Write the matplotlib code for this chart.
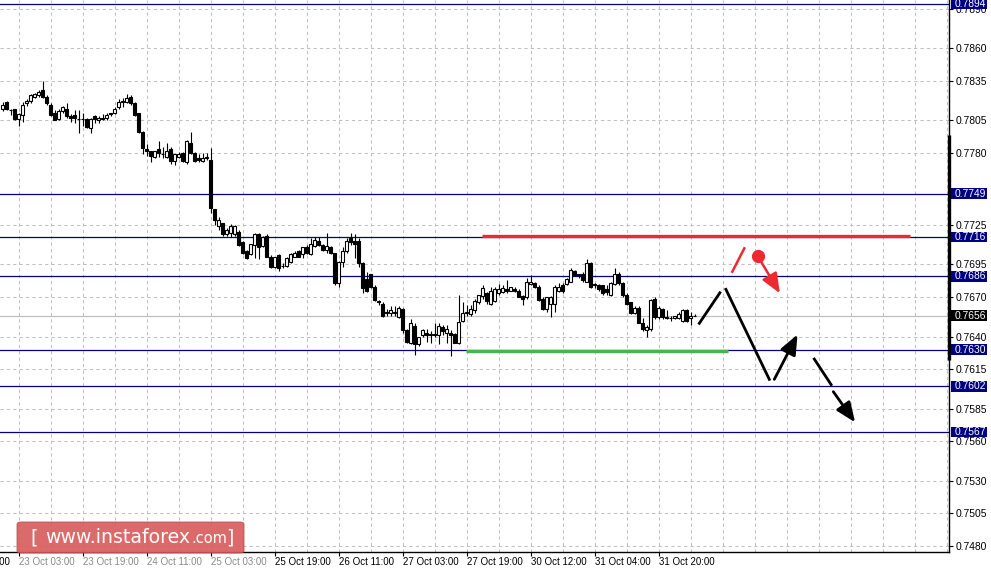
import numpy as np
import matplotlib
matplotlib.use("Agg")
import matplotlib.pyplot as plt
from matplotlib.patches import Rectangle, FancyBboxPatch
import matplotlib.transforms as mtransforms

plt.rcParams['lines.scale_dashes'] = False

# ---------------- data ----------------
open_ = [0.7814, 0.7819, 0.7813, 0.7814, 0.7806, 0.7809, 0.7818, 0.7820, 0.7823, 0.7824,
         0.7828, 0.7823, 0.7817, 0.7811, 0.7806, 0.7812, 0.7814, 0.7808, 0.7809, 0.7806,
         0.7806, 0.7806, 0.7799, 0.7808, 0.7805, 0.7807, 0.7807, 0.7810, 0.7811, 0.7815,
         0.7819, 0.7819, 0.7823, 0.7818, 0.7811, 0.7796, 0.7783, 0.7782, 0.7777, 0.7783,
         0.7779, 0.7777, 0.7783, 0.7774, 0.7777, 0.7780, 0.7773, 0.7788, 0.7780, 0.7776,
         0.7774, 0.7776, 0.7775, 0.7737, 0.7724, 0.7727, 0.7718, 0.7719, 0.7718, 0.7720,
         0.7712, 0.7705, 0.7703, 0.7710, 0.7718, 0.7709, 0.7717, 0.7701, 0.7693, 0.7702,
         0.7694, 0.7694, 0.7697, 0.7701, 0.7705, 0.7703, 0.7708, 0.7703, 0.7709, 0.7713,
         0.7710, 0.7706, 0.7708, 0.7704, 0.7681, 0.7697, 0.7705, 0.7715, 0.7713, 0.7713,
         0.7696, 0.7684, 0.7688, 0.7678, 0.7667, 0.7665, 0.7659, 0.7658, 0.7659, 0.7655,
         0.7661, 0.7645, 0.7635, 0.7648, 0.7634, 0.7641, 0.7643, 0.7642, 0.7642, 0.7641,
         0.7647, 0.7643, 0.7643, 0.7642, 0.7635, 0.7652, 0.7658, 0.7657, 0.7660, 0.7666,
         0.7671, 0.7673, 0.7665, 0.7667, 0.7673, 0.7674, 0.7676, 0.7675, 0.7676, 0.7675,
         0.7671, 0.7670, 0.7680, 0.7681, 0.7678, 0.7669, 0.7661, 0.7665, 0.7665, 0.7675,
         0.7679, 0.7680, 0.7682, 0.7690, 0.7688, 0.7688, 0.7682, 0.7696, 0.7679, 0.7679,
         0.7679, 0.7676, 0.7672, 0.7680, 0.7688, 0.7681, 0.7672, 0.7666, 0.7658, 0.7662,
         0.7650, 0.7645, 0.7646, 0.7669, 0.7655, 0.7661, 0.7655, 0.7654, 0.7654, 0.7654,
         0.7652, 0.7660, 0.7654, 0.7656]
high = [0.7819, 0.7820, 0.7814, 0.7814, 0.7811, 0.7819, 0.7821, 0.7825, 0.7826, 0.7828,
        0.7835, 0.7824, 0.7818, 0.7813, 0.7814, 0.7816, 0.7818, 0.7810, 0.7813, 0.7813,
        0.7811, 0.7807, 0.7807, 0.7809, 0.7808, 0.7810, 0.7811, 0.7811, 0.7815, 0.7821,
        0.7822, 0.7825, 0.7824, 0.7819, 0.7811, 0.7797, 0.7787, 0.7782, 0.7782, 0.7789,
        0.7785, 0.7788, 0.7785, 0.7779, 0.7781, 0.7781, 0.7790, 0.7796, 0.7781, 0.7779,
        0.7780, 0.7780, 0.7784, 0.7737, 0.7731, 0.7727, 0.7723, 0.7726, 0.7725, 0.7721,
        0.7713, 0.7706, 0.7711, 0.7719, 0.7719, 0.7717, 0.7718, 0.7702, 0.7701, 0.7703,
        0.7696, 0.7701, 0.7704, 0.7705, 0.7706, 0.7708, 0.7710, 0.7715, 0.7716, 0.7716,
        0.7711, 0.7719, 0.7709, 0.7704, 0.7698, 0.7708, 0.7715, 0.7719, 0.7718, 0.7715,
        0.7697, 0.7689, 0.7688, 0.7679, 0.7668, 0.7666, 0.7661, 0.7663, 0.7663, 0.7663,
        0.7662, 0.7646, 0.7653, 0.7650, 0.7640, 0.7646, 0.7646, 0.7644, 0.7650, 0.7650,
        0.7649, 0.7649, 0.7645, 0.7643, 0.7672, 0.7666, 0.7664, 0.7664, 0.7669, 0.7672,
        0.7679, 0.7674, 0.7678, 0.7678, 0.7680, 0.7679, 0.7683, 0.7678, 0.7678, 0.7676,
        0.7672, 0.7685, 0.7687, 0.7682, 0.7679, 0.7670, 0.7670, 0.7671, 0.7679, 0.7681,
        0.7681, 0.7685, 0.7692, 0.7691, 0.7688, 0.7689, 0.7699, 0.7697, 0.7681, 0.7680,
        0.7679, 0.7679, 0.7682, 0.7692, 0.7689, 0.7682, 0.7673, 0.7666, 0.7663, 0.7663,
        0.7654, 0.7649, 0.7669, 0.7670, 0.7663, 0.7662, 0.7660, 0.7656, 0.7656, 0.7659,
        0.7661, 0.7661, 0.7659, 0.7657]
low = [0.7812, 0.7813, 0.7809, 0.7805, 0.7801, 0.7804, 0.7816, 0.7818, 0.7822, 0.7823,
       0.7822, 0.7817, 0.7808, 0.7805, 0.7805, 0.7811, 0.7807, 0.7804, 0.7803, 0.7795,
       0.7801, 0.7799, 0.7795, 0.7803, 0.7803, 0.7805, 0.7805, 0.7808, 0.7810, 0.7814,
       0.7815, 0.7818, 0.7817, 0.7808, 0.7795, 0.7779, 0.7778, 0.7773, 0.7776, 0.7777,
       0.7776, 0.7776, 0.7772, 0.7771, 0.7776, 0.7773, 0.7772, 0.7779, 0.7773, 0.7773,
       0.7773, 0.7775, 0.7734, 0.7725, 0.7721, 0.7717, 0.7717, 0.7716, 0.7717, 0.7709,
       0.7703, 0.7699, 0.7702, 0.7700, 0.7699, 0.7708, 0.7701, 0.7692, 0.7692, 0.7690,
       0.7692, 0.7693, 0.7696, 0.7701, 0.7701, 0.7700, 0.7703, 0.7702, 0.7708, 0.7709,
       0.7705, 0.7704, 0.7703, 0.7679, 0.7678, 0.7693, 0.7704, 0.7710, 0.7700, 0.7693,
       0.7673, 0.7674, 0.7677, 0.7667, 0.7664, 0.7655, 0.7656, 0.7656, 0.7656, 0.7654,
       0.7643, 0.7635, 0.7634, 0.7626, 0.7633, 0.7640, 0.7636, 0.7635, 0.7640, 0.7634,
       0.7641, 0.7635, 0.7625, 0.7635, 0.7634, 0.7651, 0.7656, 0.7656, 0.7658, 0.7665,
       0.7669, 0.7665, 0.7664, 0.7666, 0.7672, 0.7673, 0.7673, 0.7675, 0.7674, 0.7670,
       0.7664, 0.7669, 0.7679, 0.7677, 0.7667, 0.7660, 0.7659, 0.7655, 0.7659, 0.7674,
       0.7673, 0.7679, 0.7682, 0.7686, 0.7685, 0.7682, 0.7682, 0.7677, 0.7677, 0.7675,
       0.7672, 0.7672, 0.7671, 0.7679, 0.7679, 0.7670, 0.7664, 0.7657, 0.7657, 0.7650,
       0.7644, 0.7640, 0.7644, 0.7653, 0.7653, 0.7653, 0.7653, 0.7652, 0.7653, 0.7653,
       0.7651, 0.7651, 0.7649, 0.7656]
close = [0.7817, 0.7814, 0.7813, 0.7806, 0.7810, 0.7817, 0.7820, 0.7824, 0.7825, 0.7827,
         0.7823, 0.7818, 0.7809, 0.7805, 0.7812, 0.7815, 0.7808, 0.7807, 0.7807, 0.7806,
         0.7806, 0.7800, 0.7806, 0.7806, 0.7807, 0.7806, 0.7809, 0.7811, 0.7814, 0.7819,
         0.7820, 0.7822, 0.7818, 0.7809, 0.7796, 0.7784, 0.7782, 0.7778, 0.7782, 0.7780,
         0.7779, 0.7782, 0.7774, 0.7779, 0.7779, 0.7774, 0.7789, 0.7780, 0.7774, 0.7775,
         0.7776, 0.7777, 0.7738, 0.7729, 0.7729, 0.7718, 0.7721, 0.7724, 0.7724, 0.7710,
         0.7704, 0.7700, 0.7711, 0.7718, 0.7708, 0.7716, 0.7701, 0.7693, 0.7701, 0.7692,
         0.7694, 0.7700, 0.7703, 0.7704, 0.7701, 0.7708, 0.7704, 0.7711, 0.7714, 0.7710,
         0.7706, 0.7709, 0.7704, 0.7681, 0.7697, 0.7705, 0.7713, 0.7712, 0.7711, 0.7696,
         0.7677, 0.7675, 0.7678, 0.7668, 0.7666, 0.7656, 0.7658, 0.7660, 0.7658, 0.7662,
         0.7645, 0.7636, 0.7650, 0.7634, 0.7640, 0.7645, 0.7641, 0.7641, 0.7641, 0.7648,
         0.7644, 0.7646, 0.7641, 0.7635, 0.7651, 0.7658, 0.7659, 0.7661, 0.7667, 0.7672,
         0.7677, 0.7667, 0.7675, 0.7676, 0.7676, 0.7677, 0.7675, 0.7678, 0.7675, 0.7670,
         0.7669, 0.7682, 0.7682, 0.7678, 0.7668, 0.7661, 0.7670, 0.7670, 0.7678, 0.7678,
         0.7675, 0.7684, 0.7691, 0.7687, 0.7687, 0.7683, 0.7696, 0.7678, 0.7680, 0.7676,
         0.7673, 0.7674, 0.7681, 0.7688, 0.7681, 0.7672, 0.7665, 0.7658, 0.7662, 0.7650,
         0.7646, 0.7647, 0.7668, 0.7655, 0.7662, 0.7655, 0.7654, 0.7654, 0.7656, 0.7657,
         0.7660, 0.7652, 0.7656, 0.7656]

time_labels = ["22 Oct 11:00", "23 Oct 03:00", "23 Oct 19:00", "24 Oct 11:00",
               "25 Oct 03:00", "25 Oct 19:00", "26 Oct 11:00", "27 Oct 03:00",
               "27 Oct 19:00", "30 Oct 12:00", "31 Oct 04:00", "31 Oct 20:00"]
time_label_bars = [-12, 4, 20, 36, 52, 68, 84, 100, 116, 132, 148, 164]

price_ticks = [0.7890, 0.7860, 0.7835, 0.7805, 0.7780, 0.7725, 0.7695, 0.7670,
               0.7640, 0.7615, 0.7585, 0.7560, 0.7530, 0.7505, 0.7480]
price_tick_labels = ["0.7890", "0.7860", "0.7835", "0.7805", "0.7780", "0.7725", "0.7695",
                     "0.7670", "0.7640", "0.7615", "0.7585", "0.7560", "0.7530", "0.7505",
                     "0.7480"]

levels = [0.7894, 0.7749, 0.7716, 0.7686, 0.7630, 0.7602, 0.7567]
level_labels = ["0.7894", "0.7749", "0.7716", "0.7686", "0.7630", "0.7602", "0.7567"]
current_price = 0.7656
current_label = "0.7656"

# drawn forecast (bar index, price)
resist_line = ([119.8, 226.8], [0.77165, 0.77165])
support_line = ([115.8, 181.3], [0.76289, 0.76289])
black_path_1 = ([174.15, 179.3], [0.76501, 0.76734])
black_path_2 = ([180.8, 191.65], [0.76760, 0.76073])
black_up_arrow = ([192.9, 198.7], [0.76073, 0.76415])
black_dash_1 = ([202.9, 207.1], [0.76228, 0.76033])
black_dash_arrow = ([207.65, 213.1], [0.75979, 0.75745])
red_stroke = ([182.4, 185.4], [0.76895, 0.77073])
red_dot = (188.75, 0.77015)
red_arrow = ([188.75, 194.3], [0.77015, 0.76730])

# ---------------- figure ----------------
W, H = 991, 574
fig = plt.figure(figsize=(W / 100, H / 100), dpi=100)
fig.patch.set_facecolor('white')
ax = fig.add_axes([0, 22 / H, 949 / W, 552 / H])
ax.set_facecolor('white')

PX_PER_BAR = 4.0
x0 = -2.7 / PX_PER_BAR
ax.set_xlim(x0, x0 + 949 / PX_PER_BAR)
ax.set_ylim(0.74755, 0.78969)

o = np.array(open_); h = np.array(high); l = np.array(low); c = np.array(close)
idx = np.arange(len(o))

GRID = '#c0c0c0'
for t in price_ticks:
    ax.axhline(t, color=GRID, lw=0.75, ls=(0, (2.3, 2.3)), zorder=0)
for gx in np.arange(-4, 240, 8):
    ax.axvline(gx, color=GRID, lw=0.75, ls=(0, (2.3, 2.3)), zorder=0)

NAVY = '#000080'
for lv in levels:
    ax.axhline(lv, color=NAVY, lw=0.9, zorder=1)
ax.axhline(current_price, color='#c0c0c0', lw=0.9, zorder=1)

# candles
up = c >= o
ax.vlines(idx, l, h, color='black', lw=0.8, zorder=3)
body_lo = np.minimum(o, c)
body_h = np.abs(c - o)
ax.bar(idx[up], body_h[up], bottom=body_lo[up], width=0.62, color='white',
       edgecolor='black', linewidth=0.8, zorder=4)
ax.bar(idx[~up], body_h[~up], bottom=body_lo[~up], width=0.62, color='black',
       edgecolor='black', linewidth=0.8, zorder=4)

# forecast drawings
RED = '#ec2a30'
GREEN = '#45b555'
ax.plot(*resist_line, color=RED, lw=2.4, solid_capstyle='butt', zorder=5)
ax.plot(*support_line, color=GREEN, lw=2.4, solid_capstyle='butt', zorder=5)
ax.plot(*black_path_1, color='black', lw=2.0, zorder=6)
ax.plot(*black_path_2, color='black', lw=2.0, zorder=6)
ax.plot(*black_dash_1, color='black', lw=2.0, zorder=6)
astyle = '-|>,head_length=0.6,head_width=0.25'
for seg in (black_up_arrow, black_dash_arrow):
    ax.annotate('', xy=(seg[0][1], seg[1][1]), xytext=(seg[0][0], seg[1][0]),
                arrowprops=dict(arrowstyle=astyle, color='black', lw=2.0,
                                mutation_scale=20, shrinkA=0, shrinkB=0), zorder=6)
ax.plot(*red_stroke, color=RED, lw=1.8, zorder=6)
ax.annotate('', xy=(red_arrow[0][1], red_arrow[1][1]), xytext=(red_arrow[0][0], red_arrow[1][0]),
            arrowprops=dict(arrowstyle=astyle, color=RED, lw=1.8,
                            mutation_scale=20, shrinkA=0, shrinkB=0), zorder=6)
ax.plot([red_dot[0]], [red_dot[1]], 'o', color=RED, ms=8.5, zorder=7)

# axes styling
for s in ['top', 'left']:
    ax.spines[s].set_visible(False)
ax.spines['right'].set_color('black')
ax.spines['bottom'].set_color('black')
ax.spines['right'].set_linewidth(1.0)
ax.spines['bottom'].set_linewidth(1.0)

FS = 7.4
TICKFONT = dict(family='Liberation Sans', size=FS)
ax.yaxis.tick_right()
ax.set_yticks(price_ticks)
ax.set_yticklabels(price_tick_labels, fontdict=TICKFONT)
ax.tick_params(axis='y', direction='out', length=3, width=0.8, pad=2, colors='black')

vis_bars = [b for b in time_label_bars if b >= x0]
ax.set_xticks(vis_bars)
ax.set_xticklabels([])
ax.tick_params(axis='x', direction='out', length=3, width=0.8)
xtrans = mtransforms.blended_transform_factory(ax.transData, ax.transAxes)
for b, lab in zip(time_label_bars, time_labels):
    px = 2.7 + b * PX_PER_BAR
    col = '#8a8a8a' if 15 < px < 240 else 'black'
    ax.annotate(lab, xy=(b, 0), xycoords=xtrans, xytext=(0.3, -7), textcoords='offset points',
                ha='left', va='center', fontsize=7, family='Liberation Sans', color=col,
                annotation_clip=False)

# thick marker bar on the right edge
ytrans = mtransforms.blended_transform_factory(fig.transFigure, ax.transData)
ax.plot([949 / W, 949 / W], [0.77939, 0.76220], transform=ytrans, color='black', lw=2.4,
        clip_on=False, zorder=8, solid_capstyle='butt')

# level label boxes
box_h = 10.5 / 13098.0
def level_box(price, text, face):
    r = Rectangle((951 / W, price - box_h / 2), 36 / W, box_h, transform=ytrans,
                  facecolor=face, edgecolor='none', clip_on=False, zorder=20)
    ax.add_artist(r)
    ax.text(955 / W, price, text, transform=ytrans, color='white', ha='left', va='center',
            fontsize=FS, family='Liberation Sans', zorder=21, clip_on=False)

for lv, lab in zip(levels, level_labels):
    level_box(lv, lab, NAVY)
level_box(current_price, current_label, 'black')

# logo
logo = FancyBboxPatch((17 / W, (H - 553) / H), 227 / W, 31 / H,
                      boxstyle='round,pad=0,rounding_size=0.004', transform=fig.transFigure,
                      facecolor='#d85a5a', edgecolor='#c04848', lw=0.6, alpha=0.9, zorder=30)
fig.add_artist(logo)
base = (H - 543) / H
fig.text(30 / W, base, '[', color='white', fontsize=13.6, family='DejaVu Sans',
         ha='left', va='baseline', zorder=31)
fig.text(45 / W, base, 'www.instaforex', color='white', fontsize=13.6, family='DejaVu Sans',
         ha='left', va='baseline', zorder=31)
fig.text(191 / W, base, '.com', color='white', fontsize=10.5, family='DejaVu Sans',
         ha='left', va='baseline', zorder=31)
fig.text(226 / W, base, ']', color='white', fontsize=13.6, family='DejaVu Sans',
         ha='left', va='baseline', zorder=31)

fig.savefig('out.png', dpi=100, facecolor='white')
